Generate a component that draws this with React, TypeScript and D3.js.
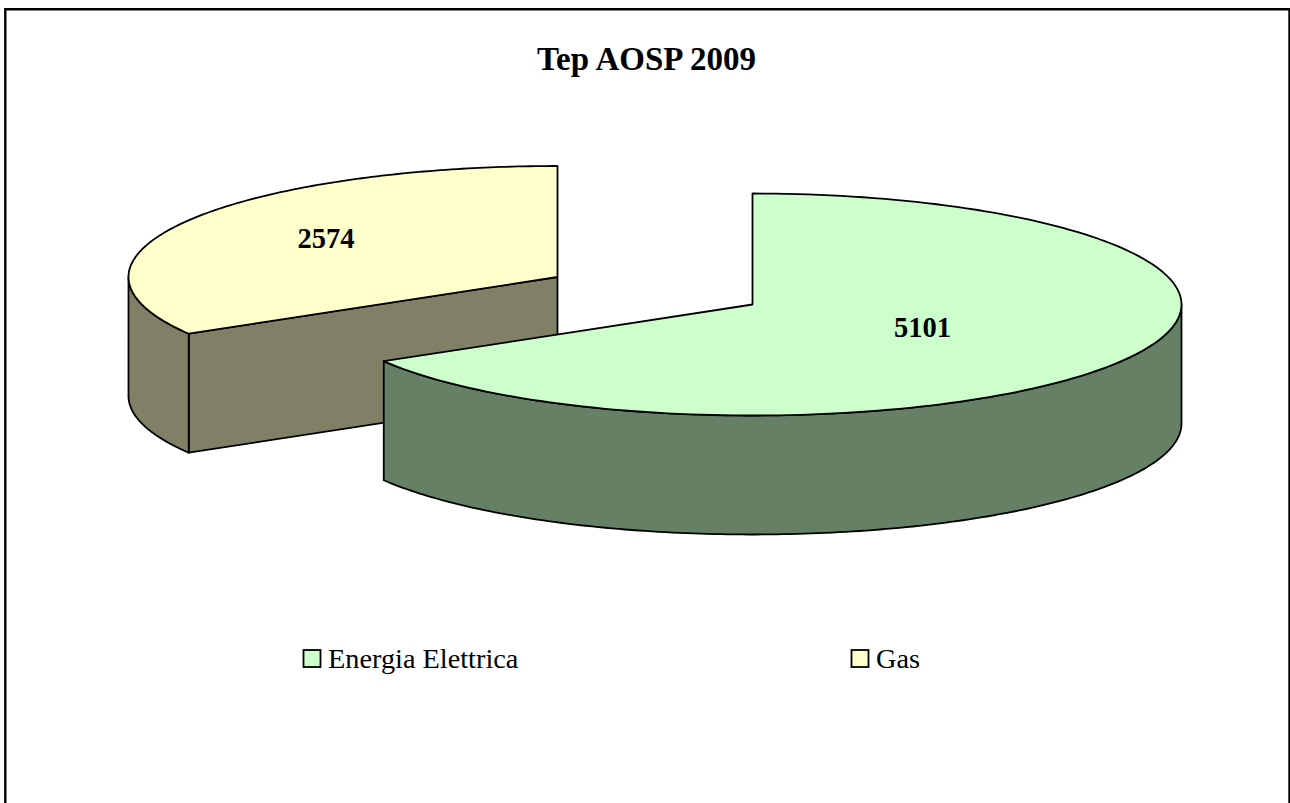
import React from "react";
import * as d3 from "d3";

const categories = ["Energia Elettrica", "Gas"];
const seriesValues = [5101, 2574];
const sliceColors = ["#CCFFCC", "#FFFFCC"];
const sideColors = ["#668066", "#808066"];
const sliceCentres = [
  { x: 752.5, y: 304.5 },
  { x: 557.5, y: 277 },
];
const labelPositions = [
  { x: 922.5, y: 337 },
  { x: 326, y: 248 },
];
const legendPositions = [
  { box: 303.5, text: 328 },
  { box: 851.5, text: 876 },
];
const title = "Tep AOSP 2009";

const RX = 429;
const RY = 111;
const DEPTH = 119;
const FONT = '"Liberation Serif", "Times New Roman", serif';

const pie = d3.pie<number>().sort(null).startAngle(0).endAngle(2 * Math.PI);

function ellipsePoint(cx: number, cy: number, a: number, dy = 0) {
  return [cx + RX * Math.sin(a), cy - RY * Math.cos(a) + dy] as const;
}

function arcSamples(cx: number, cy: number, a0: number, a1: number, dy = 0) {
  const angle = d3.scaleLinear().domain([0, 160]).range([a0, a1]);
  return d3.range(161).map((i) => ellipsePoint(cx, cy, angle(i), dy));
}

const line = d3.line();

export default function App() {
  const arcs = pie(seriesValues);
  const drawOrder = [1, 0];
  const stroke = { stroke: "#000", strokeWidth: 1.8, strokeLinejoin: "round" as const };

  return (
    <svg
      width={1290}
      height={803}
      style={{ position: "absolute", left: 0, top: 0, display: "block", background: "#fff" }}
    >
      <path d="M5.3 803 V9.3 H1289.5 V803" fill="none" stroke="#000" strokeWidth={2.4} />
      <text x={646.5} y={70} textAnchor="middle" fontFamily={FONT} fontSize={33} fontWeight="bold">
        {title}
      </text>
      {drawOrder.map((i) => {
        const { startAngle, endAngle } = arcs[i];
        const { x: cx, y: cy } = sliceCentres[i];
        const top = arcSamples(cx, cy, startAngle, endAngle);
        const wallStart = Math.max(startAngle, Math.PI / 2);
        const wallEnd = Math.min(endAngle, (3 * Math.PI) / 2);
        const wallTop = arcSamples(cx, cy, wallStart, wallEnd);
        const wallBottom = arcSamples(cx, cy, wallEnd, wallStart, DEPTH);
        const wall = line([...wallTop, ...wallBottom]) + "Z";
        const cutAngle = i === 1 ? startAngle : null;
        const cutFace =
          cutAngle === null
            ? null
            : line([
                [cx, cy],
                ellipsePoint(cx, cy, cutAngle),
                ellipsePoint(cx, cy, cutAngle, DEPTH),
                [cx, cy + DEPTH],
              ]) + "Z";
        return (
          <g key={categories[i]}>
            {cutFace && <path d={cutFace} fill={sideColors[i]} {...stroke} />}
            <path d={wall} fill={sideColors[i]} {...stroke} />
            <path d={line([[cx, cy], ...top]) + "Z"} fill={sliceColors[i]} {...stroke} />
          </g>
        );
      })}
      {seriesValues.map((v, i) => (
        <text
          key={v}
          x={labelPositions[i].x}
          y={labelPositions[i].y}
          textAnchor="middle"
          fontFamily={FONT}
          fontSize={28.5}
          fontWeight="bold"
        >
          {v}
        </text>
      ))}
      {categories.map((c, i) => (
        <g key={c}>
          <rect
            x={legendPositions[i].box}
            y={650}
            width={17}
            height={17}
            fill={sliceColors[i]}
            stroke="#000"
            strokeWidth={1.8}
          />
          <text x={legendPositions[i].text} y={668} fontFamily={FONT} fontSize={28.3}>
            {c}
          </text>
        </g>
      ))}
    </svg>
  );
}
